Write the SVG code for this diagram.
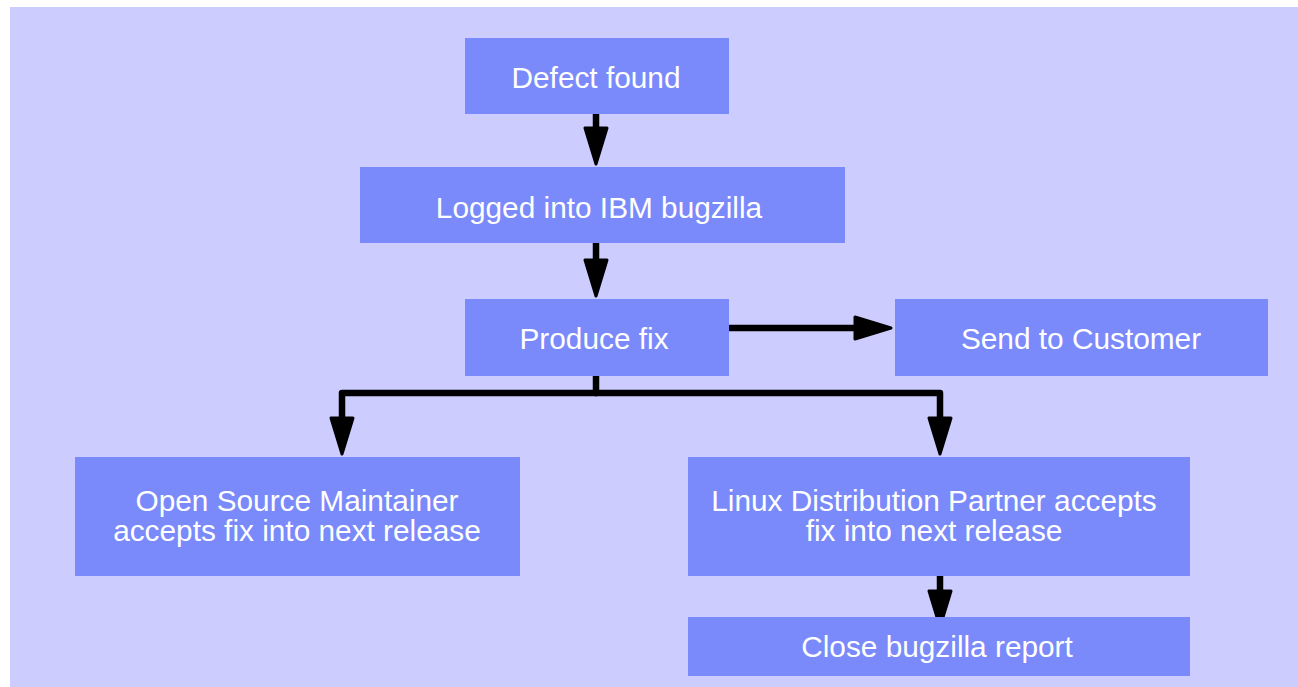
<svg xmlns="http://www.w3.org/2000/svg" width="1298" height="687" viewBox="0 0 1298 687">
<style>
.bg{fill:#ccccff}
.box{fill:#7a8afa}
.lbl{fill:#ffffff;font-family:"Liberation Sans",Arial,sans-serif;font-size:29.8px;text-anchor:middle}
.con{fill:none;stroke:#000;stroke-width:6.5;stroke-linecap:round;stroke-linejoin:round}
</style>
<defs>
<marker id="ah" markerUnits="userSpaceOnUse" viewBox="0 -13 41 26" refX="1.5" refY="0" markerWidth="41" markerHeight="26" orient="auto" overflow="visible">
<path d="M1.5,-11 L37.5,0 L1.5,11 Z" fill="#000" stroke="#000" stroke-width="3" stroke-linejoin="round"/>
</marker>
</defs>
<rect class="bg" x="10" y="7" width="1288" height="680"/>
<g id="connectors">
<path class="con" d="M596,114 V128" marker-end="url(#ah)"/>
<path class="con" d="M596,243 V260" marker-end="url(#ah)"/>
<path class="con" d="M730,328 H855" marker-end="url(#ah)"/>
<path class="con" d="M596,376 V393"/>
<path class="con" d="M596,393 H342 V418" marker-end="url(#ah)"/>
<path class="con" d="M596,393 H940 V418" marker-end="url(#ah)"/>
<path class="con" d="M940,576 V591" marker-end="url(#ah)"/>
</g>
<g id="defect"><rect class="box" x="465" y="38" width="264" height="76"/><text class="lbl" x="596" y="88">Defect found</text></g>
<g id="logged"><rect class="box" x="360" y="167" width="485" height="76"/><text class="lbl" x="599" y="218">Logged into IBM bugzilla</text></g>
<g id="produce"><rect class="box" x="465" y="299" width="264" height="77"/><text class="lbl" x="594" y="349">Produce fix</text></g>
<g id="send"><rect class="box" x="895" y="299" width="373" height="77"/><text class="lbl" x="1081" y="349">Send to Customer</text></g>
<g id="maintainer"><rect class="box" x="75" y="457" width="445" height="119"/><text class="lbl" x="297" y="511">Open Source Maintainer</text><text class="lbl" x="297" y="541">accepts fix into next release</text></g>
<g id="partner"><rect class="box" x="688" y="457" width="502" height="119"/><text class="lbl" x="934" y="511">Linux Distribution Partner accepts</text><text class="lbl" x="934" y="541">fix into next release</text></g>
<g id="close"><rect class="box" x="688" y="617" width="502" height="59"/><text class="lbl" x="937" y="657">Close bugzilla report</text></g>
</svg>
